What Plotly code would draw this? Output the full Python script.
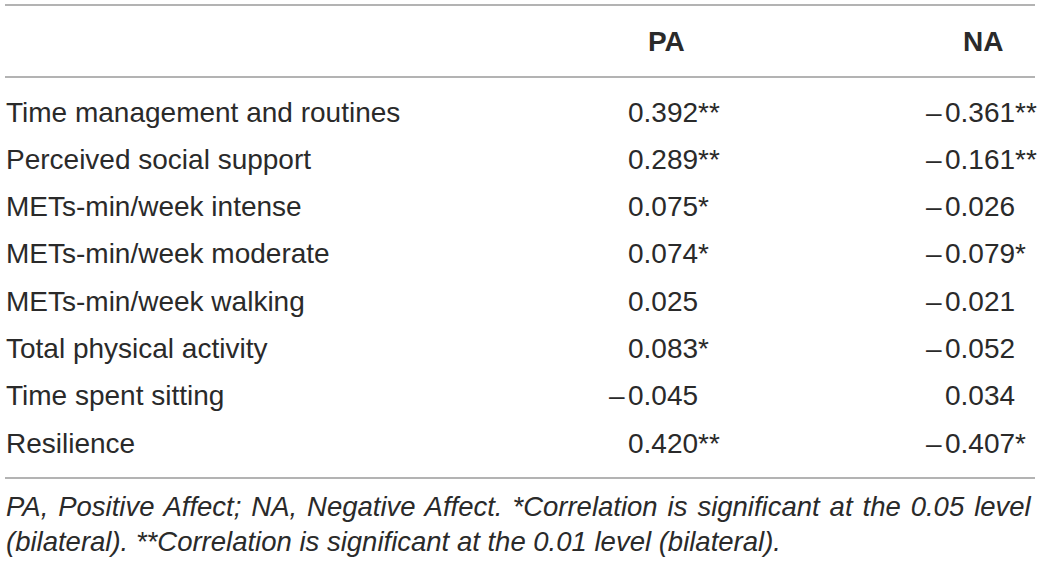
import plotly.graph_objects as go

# table contents
headers = ["PA", "NA"]
labels = [
    "Time management and routines",
    "Perceived social support",
    "METs-min/week intense",
    "METs-min/week moderate",
    "METs-min/week walking",
    "Total physical activity",
    "Time spent sitting",
    "Resilience",
]
pa_values = [0.392, 0.289, 0.075, 0.074, 0.025, 0.083, -0.045, 0.420]
pa_sig = ["**", "**", "*", "*", "", "*", "", "**"]
na_values = [-0.361, -0.161, -0.026, -0.079, -0.021, -0.052, 0.034, -0.407]
na_sig = ["**", "**", "", "*", "", "", "", "*"]
notes = [
    "PA, Positive Affect; NA, Negative Affect. *Correlation is significant at the 0.05 level",
    "(bilateral). **Correlation is significant at the 0.01 level (bilateral).",
]

FONT = "Liberation Sans, Arial, sans-serif"
TXT = "#2a2a2a"
RULE = "#9a9a9a"
SIZE = 28

label_x = 4
header_x = [666, 983]
digit_x = [626, 943]


def sign_and_body(v, sig):
    sign = "\u2013" if v < 0 else ""
    body = f"{abs(v):.3f}" + sig
    return sign, body


fig = go.Figure()
fig.add_trace(go.Scatter(x=[0, 1044], y=[0, 0], mode="markers",
                         marker=dict(opacity=0), hoverinfo="skip", showlegend=False))

ann = []
for i, lab in enumerate(labels):
    ann.append(dict(x=label_x, y=i, text=lab, xanchor="left", yanchor="middle",
                    showarrow=False, font=dict(size=SIZE, color=TXT, family=FONT)))
    for col, (vals, sigs) in enumerate([(pa_values, pa_sig), (na_values, na_sig)]):
        sign, body = sign_and_body(vals[i], sigs[i])
        ann.append(dict(x=digit_x[col], y=i, text=body, xanchor="left", yanchor="middle",
                        showarrow=False, font=dict(size=SIZE, color=TXT, family=FONT)))
        if sign:
            ann.append(dict(x=digit_x[col] + 1, y=i, text=sign, xanchor="right", yanchor="middle",
                            showarrow=False, font=dict(size=SIZE, color=TXT, family=FONT)))

for col, h in enumerate(headers):
    ann.append(dict(x=header_x[col], y=-1.5, text=f"<b>{h}</b>", xanchor="center",
                    yanchor="middle", showarrow=False,
                    font=dict(size=SIZE, color=TXT, family=FONT)))

# first footnote line is justified in the original
note_spacing = ["word-spacing:2.3px", "word-spacing:0px"]
for j, note in enumerate(notes):
    ann.append(dict(x=label_x, y=8.33 + j * 0.75,
                    text=f"<span style='{note_spacing[j]}'>{note}</span>",
                    xanchor="left", yanchor="middle", showarrow=False,
                    font=dict(size=27.5, color=TXT, family=FONT, style="italic")))

shapes = [
    dict(type="line", x0=5, x1=1035, y0=yy, y1=yy, xref="x", yref="y",
         line=dict(color=RULE, width=1.5))
    for yy in (-2.26, -0.74, 7.74)
]

fig.update_layout(
    width=1044, height=565,
    margin=dict(l=0, r=0, t=0, b=0),
    paper_bgcolor="white", plot_bgcolor="white",
    xaxis=dict(range=[0, 1044], visible=False, fixedrange=True),
    yaxis=dict(range=[9.577, -2.368], visible=False, fixedrange=True),
    annotations=ann, shapes=shapes,
    showlegend=False,
)

fig.write_html("out.html", config={"displayModeBar": False},
               post_script="document.body.style.margin='0';")
